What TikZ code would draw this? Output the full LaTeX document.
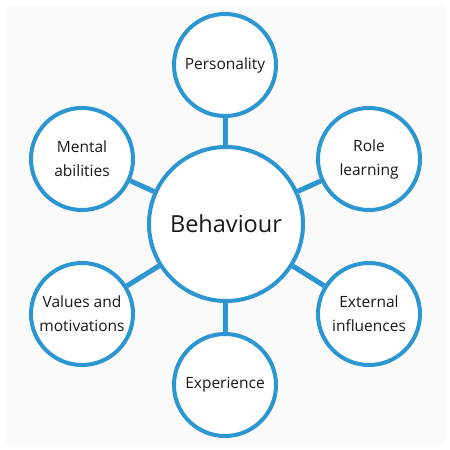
\documentclass[tikz,border=0pt]{standalone}
\usepackage{fontspec}
\setmainfont{Open Sans}
\definecolor{ringblue}{HTML}{2C96D2}
\definecolor{bggray}{HTML}{FAFAFA}
\begin{document}
\begin{tikzpicture}[x=1bp,y=-1bp,
  ring/.style={circle,draw=ringblue,line width=4bp,fill=white,minimum size=102bp,inner sep=0pt,
    align=center,font=\fontsize{15.5bp}{24bp}\selectfont,text=black!90},
  hub/.style={ring,minimum size=154bp,font=\fontsize{23.5bp}{28bp}\selectfont},
  link/.style={draw=ringblue,line width=5bp}]
\useasboundingbox (0,0) rectangle (450,450);
\fill[white] (0,0) rectangle (450,450);
\fill[bggray,rounded corners=6bp] (5,5) rectangle (445,445);
\node[hub] (b) at (226,224) {Behaviour};
\node[ring] (p) at (225,65) {Personality};
\node[ring] (m) at (82,159) {Mental\\abilities};
\node[ring] (r) at (369,159) {Role\\learning};
\node[ring] (v) at (82,314) {Values and\\motivations};
\node[ring] (e) at (369,314) {External\\influences};
\node[ring] (x) at (225,385) {Experience};
\foreach \n in {p,m,r,v,e,x} \draw[link] (b) -- (\n);
\end{tikzpicture}
\end{document}
